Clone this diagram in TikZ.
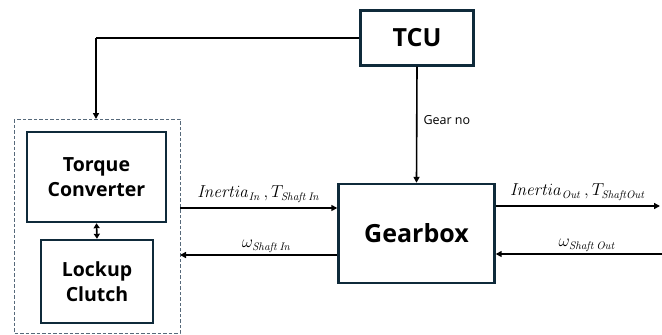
\documentclass[tikz,border=0pt]{standalone}
\usepackage[no-math]{fontspec}
\setmainfont{Open Sans}
\setsansfont{Open Sans}
\usetikzlibrary{arrows.meta}
\definecolor{boxline}{HTML}{0F2A3A}
\definecolor{dashline}{HTML}{56697A}
\tikzset{
  blockbox/.style={draw=boxline, line width=2.4pt, fill=white, font=\bfseries, align=center, inner sep=0pt},
  sig/.style={line width=1.6pt, -{Triangle[length=6pt,width=6pt]}},
  plainline/.style={line width=1.6pt},
  lab/.style={inner sep=1pt, font=\fontsize{16}{18}\selectfont}
}
\begin{document}
\begin{tikzpicture}[x=1pt,y=-1pt]
\useasboundingbox (0,0) rectangle (662,335);
% control unit
\node[blockbox, minimum width=113pt, minimum height=55pt, font=\bfseries\fontsize{25}{28}\selectfont] (tcu) at (417,38) {TCU};
% driveline group
\draw[dashline, line width=1pt, dashed, dash pattern=on 3.5pt off 2pt] (14,119) rectangle (180,333);
\coordinate (grptop) at (96,119);
\coordinate (grpR1) at (180,208);
\coordinate (grpR2) at (180,255);
\node[blockbox, minimum width=139pt, minimum height=90pt, font=\bfseries\fontsize{19.5}{25}\selectfont] (tc) at (96.5,177) {Torque\\Converter};
\node[blockbox, minimum width=112pt, minimum height=83pt, font=\bfseries\fontsize{19.5}{25}\selectfont] (lc) at (97,281.5) {Lockup\\Clutch};
\node[blockbox, minimum width=156pt, minimum height=99pt, font=\bfseries\fontsize{25}{28}\selectfont] (gb) at (416.5,233.5) {Gearbox};
\coordinate (outR1) at (662,206);
\coordinate (outR2) at (662,254);
% connectors
\draw[plainline] (tcu.west) -- (96,38) coordinate (corner);
\draw[sig] (corner) -- (grptop);
\draw[line width=1.6pt, {Triangle[length=5pt,width=6pt]}-{Triangle[length=5pt,width=6pt]}] (tc.south) -- (lc.north);
\draw[sig] (tcu.south) -- node[lab, right=5pt, font=\fontsize{12.5}{14}\selectfont, pos=0.46] {Gear no} (gb.north);
\draw[sig] (grpR1) -- node[lab, above=4pt] {$\mathit{Inertia}_{\mathit{In}}\,,T_{\mathit{Shaft\,In}}$} (gb.west |- grpR1);
\draw[sig] (gb.west |- grpR2) -- node[lab, above=1pt, pos=0.45] {$\omega_{\mathit{Shaft\,In}}$} (grpR2);
\draw[sig] (gb.east |- outR1) -- node[lab, above=4pt] {$\mathit{Inertia}_{\mathit{Out}}\,,T_{\mathit{ShaftOut}}$} ([xshift=-2pt]outR1);
\draw[sig] (outR2) -- node[lab, above=1pt, pos=0.45] {$\omega_{\mathit{Shaft\,Out}}$} (gb.east |- outR2);
\end{tikzpicture}
\end{document}
